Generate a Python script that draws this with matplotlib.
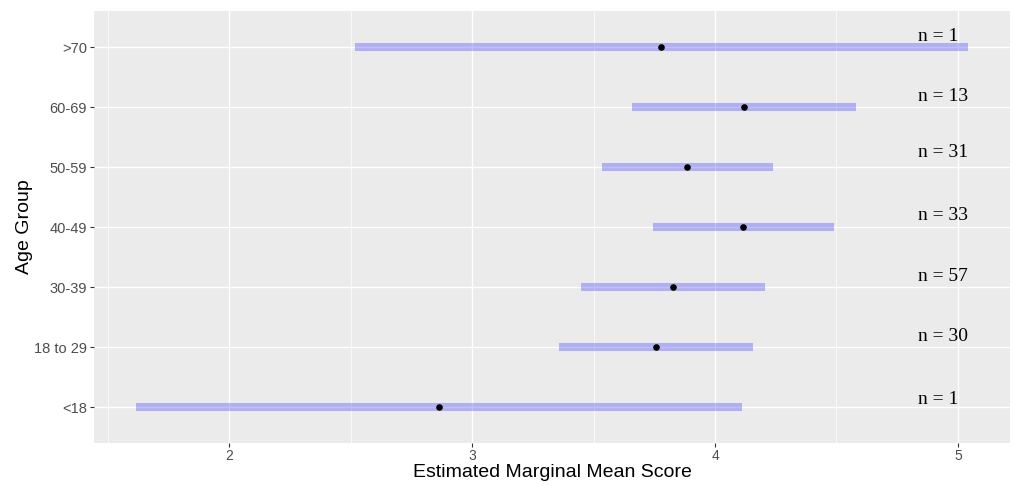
import matplotlib.pyplot as plt
import numpy as np

# age groups, bottom to top
groups = ['<18', '18 to 29', '30-39', '40-49', '50-59', '60-69', '>70']
emm = [2.864, 3.757, 3.827, 4.115, 3.885, 4.119, 3.778]
lower = [1.617, 3.358, 3.449, 3.745, 3.535, 3.658, 2.519]
upper = [4.111, 4.156, 4.206, 4.490, 4.239, 4.580, 5.041]
n_labels = ['n = 1', 'n = 30', 'n = 57', 'n = 33', 'n = 31', 'n = 13', 'n = 1']
label_dy = [0.13, 0.17, 0.17, 0.20, 0.25, 0.18, 0.18]

plt.rcParams['font.family'] = ['Liberation Sans', 'DejaVu Sans']

fig = plt.figure(figsize=(10.13, 4.86), dpi=100)
ax = fig.add_axes([0.0928, 0.0885, 0.9042, 0.8885])

ax.set_facecolor('#EBEBEB')
for s in ax.spines.values():
    s.set_visible(False)

y = np.arange(1, len(groups) + 1)

# grid like ggplot's theme_grey
ax.set_xlim(1.444, 5.214)
ax.set_ylim(0.4, 7.6)
ax.set_xticks([2, 3, 4, 5])
ax.set_xticks([1.5, 2.5, 3.5, 4.5], minor=True)
ax.set_yticks(y)
ax.set_yticklabels(groups)
ax.grid(which='major', color='white', linewidth=1.0)
ax.grid(which='minor', axis='x', color='white', linewidth=0.5)
ax.set_axisbelow(True)
ax.tick_params(axis='both', which='major', colors='#333333', labelcolor='#4D4D4D',
               labelsize=10.5, length=3, width=0.8, pad=2)
ax.tick_params(axis='x', which='major', labelsize=10, pad=1.5)
ax.tick_params(axis='both', which='minor', length=0)

# confidence intervals and estimated means
ax.hlines(y, lower, upper, colors='blue', alpha=0.25, linewidth=5.8, zorder=2)
ax.scatter(emm, y, s=14, color='black', zorder=3)

for yi, lab, dy in zip(y, n_labels, label_dy):
    ax.text(4.835, yi + dy, lab, fontsize=14, family='Liberation Serif',
            ha='left', va='center', color='black')

ax.set_xlabel('Estimated Marginal Mean Score', fontsize=14)
ax.set_ylabel('Age Group', fontsize=14)
ax.xaxis.set_label_coords(0.5, -0.048)
ax.xaxis.label.set_va('top')
ax.yaxis.set_label_coords(-0.0665, 0.5)

fig.savefig('out.png', dpi=100)
